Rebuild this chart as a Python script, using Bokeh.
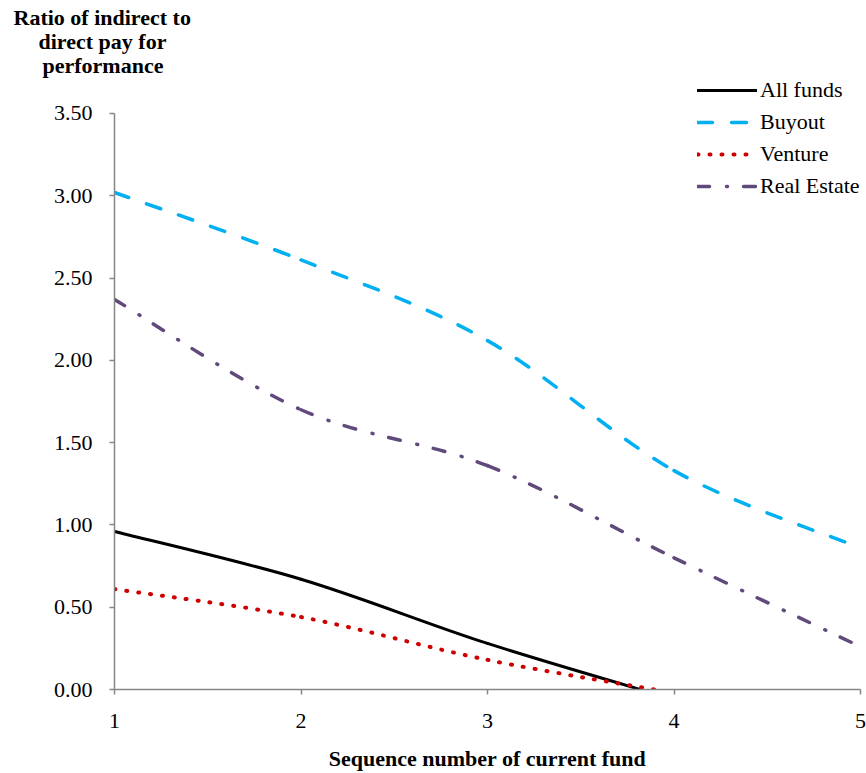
from bokeh.plotting import figure
from bokeh.models import Range1d, FixedTicker, Legend, LegendItem, Title
from bokeh.embed import file_html
from bokeh.resources import INLINE

# ---- data ----
fund_seq = [1, 2, 3, 4, 5]
all_funds = [0.96, 0.67, 0.28, -0.06]
buyout = [3.02, 2.61, 2.12, 1.33, 0.86]
venture = [0.61, 0.44, 0.18, -0.02]
real_estate = [2.37, 1.70, 1.36, 0.80, 0.26]

y_ticks = [0, 0.5, 1.0, 1.5, 2.0, 2.5, 3.0, 3.5]
y_tick_labels = ["0.00", "0.50", "1.00", "1.50", "2.00", "2.50", "3.00", "3.50"]
x_ticks = [1, 2, 3, 4, 5]
x_tick_labels = ["1", "2", "3", "4", "5"]

FONT = "Liberation Serif"
FS = "22px"

p = figure(width=866, height=773, output_backend="svg", toolbar_location=None,
           x_range=Range1d(1, 5), y_range=Range1d(0, 3.7248),
           min_border_left=114, min_border_right=6, min_border_top=76,
           min_border_bottom=84)
p.outline_line_color = None
p.xgrid.visible = False
p.ygrid.visible = False
p.background_fill_color = "white"

for ax in (p.xaxis[0], p.yaxis[0]):
    ax.axis_line_color = "#868686"
    ax.axis_line_width = 1.5
    ax.major_tick_line_color = "#868686"
    ax.major_tick_line_width = 1.5
    ax.major_tick_in = 0
    ax.major_tick_out = 5
    ax.minor_tick_line_color = None
    ax.major_label_text_font = FONT
    ax.major_label_text_font_size = FS
    ax.major_label_text_color = "black"

p.yaxis.major_label_standoff = 17
p.xaxis.major_label_standoff = 19
p.yaxis.bounds = (0, 3.5)
p.xaxis.ticker = FixedTicker(ticks=x_ticks)
p.xaxis.major_label_overrides = {t: l for t, l in zip(x_ticks, x_tick_labels)}
p.yaxis.ticker = FixedTicker(ticks=y_ticks)
p.yaxis.major_label_overrides = {t: l for t, l in zip(y_ticks, y_tick_labels)}

p.xaxis.axis_label = "Sequence number of current fund"
p.xaxis.axis_label_text_font = FONT
p.xaxis.axis_label_text_font_size = FS
p.xaxis.axis_label_text_font_style = "bold"
p.xaxis.axis_label_text_color = "black"
p.xaxis.axis_label_standoff = 15


def smooth(xs, ys):
    """Bezier control points (Excel-like smoothing) derived from the data."""
    n = len(ys)
    xs = xs[:n]
    out = dict(x0=[], y0=[], x1=[], y1=[], cx0=[], cy0=[], cx1=[], cy1=[])
    for i in range(n - 1):
        a = max(i - 1, 0)
        d = min(i + 2, n - 1)
        out["x0"].append(xs[i]); out["y0"].append(ys[i])
        out["x1"].append(xs[i + 1]); out["y1"].append(ys[i + 1])
        out["cx0"].append(xs[i] + (xs[i + 1] - xs[a]) / 6)
        out["cy0"].append(ys[i] + (ys[i + 1] - ys[a]) / 6)
        out["cx1"].append(xs[i + 1] - (xs[d] - xs[i]) / 6)
        out["cy1"].append(ys[i + 1] - (ys[d] - ys[i]) / 6)
    return out


series = [
    ("All funds", all_funds, "black", "solid", 3),
    ("Buyout", buyout, "#00B0F0", "15 19", 3.5),
    ("Venture", venture, "#CC0000", "1 11", 4),
    ("Real Estate", real_estate, "#604A7B", "12 17 1 16", 3.5),
]

nan = float("nan")
items = []
for name, vals, col, dash, w in series:
    seg = smooth(fund_seq, vals)
    p.bezier(x0="x0", y0="y0", x1="x1", y1="y1", cx0="cx0", cy0="cy0",
             cx1="cx1", cy1="cy1", source=seg, line_color=col, line_width=w,
             line_dash=dash, line_cap="round")
    r = p.line(x=[nan, nan], y=[nan, nan], line_color=col, line_width=w,
               line_dash=dash, line_cap="round")
    items.append(LegendItem(label=name, renderers=[r]))

legend = Legend(items=items, location=(583, 490), glyph_width=60, glyph_height=20,
                label_height=20, spacing=6, padding=0, margin=0,
                label_standoff=3, border_line_color=None,
                background_fill_alpha=0, label_text_font=FONT,
                label_text_font_size=FS, label_text_color="black")
p.add_layout(legend)

title_lines = ["performance", "direct pay for", "Ratio of indirect to"]
title_offsets = [-72, -76, -101]
for t, off in zip(title_lines, title_offsets):
    p.add_layout(Title(text=t, align="left", offset=off, standoff=-3,
                       text_font=FONT, text_font_size=FS, text_font_style="bold",
                       text_color="black", text_line_height=1.0), "above")

open("out.html", "w").write(file_html(p, INLINE))
